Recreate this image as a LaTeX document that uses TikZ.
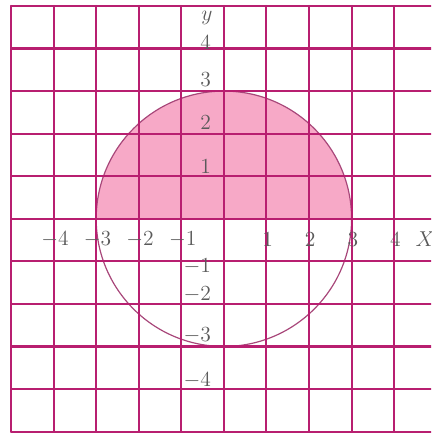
\documentclass[tikz,border=0pt]{standalone}
\usepackage{tikz}
\usetikzlibrary{calc}
\definecolor{GridMagenta}{HTML}{B81F70}
\definecolor{DiscPink}{HTML}{F7A9C7}
\definecolor{RimPurple}{HTML}{A8477A}
\definecolor{LabelGray}{HTML}{5A5A5A}
\tikzset{ticklabel/.style={color=LabelGray,inner sep=0pt,font=\fontsize{15}{18}\selectfont}}

\begin{document}
\begin{tikzpicture}[line cap=round,line join=round,x=1cm,y=1cm]
\useasboundingbox (-5.26,-5.08) rectangle (4.87,5.14);
\clip (-5.26,-5.08) rectangle (4.87,5.14);
% upper half of the disc
\fill [DiscPink] (3,0) arc (0:180:3) -- cycle;
\draw [line width=.8pt,color=RimPurple] (0,0) circle (3);
% grid
\foreach \x in {-5,...,5}
\draw [line width=1.4pt,color=GridMagenta] (\x,-5.) -- (\x,5.);
\foreach \y in {-5,...,5}
\draw [line width=1.4pt,color=GridMagenta] (-5.,\y) -- (5.,\y);
% axis labels
\foreach \x in {-4,...,-1}
\node [ticklabel,anchor=east] (xn\x) at (\x+0.36,-0.48) {$\x$};
\foreach \x in {1,...,4}
\node [ticklabel,anchor=east] (xp\x) at (\x+0.16,-0.48) {$\x$};
\node [ticklabel,anchor=west] (xlab) at (4.5,-0.48) {$X$};
\foreach \y/\p in {4/4.13,3/3.26,2/2.27,1/1.22}
\node [ticklabel,anchor=east] (yp\y) at (-0.3,\p) {$\y$};
\foreach \y/\p in {-1/-1.12,-2/-1.78,-3/-2.73,-4/-3.79}
\node [ticklabel,anchor=east] (yn\y) at (-0.3,\p) {$\y$};
\node [ticklabel] (ylab) at (-0.4,4.72) {$y$};
\end{tikzpicture}
\end{document}
